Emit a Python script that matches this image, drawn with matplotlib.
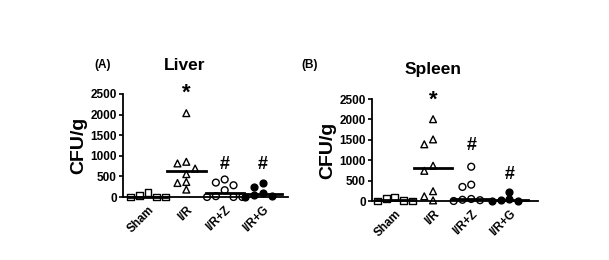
import numpy as np
import matplotlib
matplotlib.use("Agg")
import matplotlib.pyplot as plt

plt.rcParams['font.family'] = ['Liberation Sans', 'DejaVu Sans']
plt.rcParams['font.weight'] = 'bold'

categories = ["Sham", "I/R", "I/R+Z", "I/R+G"]
yticks = [0, 500, 1000, 1500, 2000, 2500]

liver_sham = [0, 0, 100, 40, 0]
liver_ir = [2035, 690, 815, 855, 555, 365, 180, 340]
liver_irz = [350, 285, 425, 165, 0, 0, 0, 20]
liver_irg = [340, 250, 0, 50, 100, 20]

spleen_sham = [0, 20, 100, 60, 0]
spleen_ir = [2005, 1510, 1390, 865, 740, 240, 15, 115]
spleen_irz = [840, 400, 345, 0, 20, 50, 30]
spleen_irg = [220, 0, 20, 40, 10]

liver_marks = {"I/R": ("*", 2530), "I/R+Z": ("#", 800), "I/R+G": ("#", 800)}
spleen_marks = {"I/R": ("*", 2480), "I/R+Z": ("#", 1350), "I/R+G": ("#", 660)}

markers = ["s", "^", "o", "o"]
fills = ["none", "none", "none", "black"]


def swarm(vals, xunit_px, yunit_px, d=7.0, step=0.23):
    order = np.argsort(vals)[::-1]
    placed = []
    offs = np.zeros(len(vals))
    cands = [0.0]
    for k in range(1, 8):
        cands += [-k * step, k * step]
    for i in order:
        y = vals[i]
        best = None
        for c in cands:
            ok = True
            for (px, py) in placed:
                if abs((c - px) * xunit_px) < d and abs((y - py) * yunit_px) < d:
                    ok = False
                    break
            if ok:
                best = c
                break
        if best is None:
            best = 0.0
        offs[i] = best
        placed.append((best, y))
    return offs


fig = plt.figure(figsize=(6.09, 2.6), dpi=100)


def panel(rect, groups, xlim, title, tag, tagpos, titlepos, marks):
    ax = fig.add_axes(rect)
    w_px = rect[2] * 609
    h_px = rect[3] * 260
    xunit = w_px / (xlim[1] - xlim[0])
    yunit = h_px / 2500
    for i, vals in enumerate(groups):
        vals = np.array(vals, dtype=float)
        offs = swarm(vals, xunit, yunit)
        ax.scatter(i + offs, vals, marker=markers[i], s=24,
                   facecolors=fills[i], edgecolors='black', linewidths=1.0,
                   clip_on=False, zorder=3)
        med = np.median(vals)
        ax.plot([i - 0.5, i + 0.5], [med, med], color='black', lw=2.0,
                zorder=4, clip_on=False)
    for cat, (sym, yv) in marks.items():
        i = categories.index(cat)
        ax.text(i, yv, sym, ha='center', va='center',
                fontsize=16 if sym == "*" else 13, fontweight='bold')
    ax.set_xlim(*xlim)
    ax.set_ylim(0, 2500)
    ax.set_yticks(yticks)
    ax.set_xticks(range(len(categories)))
    ax.set_xticklabels(categories, rotation=45, ha='right',
                       rotation_mode='anchor', fontsize=8.5, fontweight='bold')
    ax.tick_params(axis='y', labelsize=8.5, width=1.2, length=3, pad=1.5)
    ax.tick_params(axis='x', length=0, pad=5)
    for lab in ax.get_yticklabels():
        lab.set_fontweight('bold')
    for s in ['top', 'right']:
        ax.spines[s].set_visible(False)
    ax.spines['left'].set_linewidth(1.3)
    ax.spines['bottom'].set_linewidth(1.3)
    ax.set_ylabel("CFU/g", fontsize=14, fontweight='bold', labelpad=2)
    fig.text(titlepos[0] / 609, 1 - titlepos[1] / 260, title, ha='center',
             va='center', fontsize=12.5, fontweight='bold')
    fig.text(tagpos[0] / 609, 1 - tagpos[1] / 260, tag, ha='center',
             va='center', fontsize=8.5, fontweight='bold')
    return ax


panel([123 / 609, 1 - 197 / 260, 165 / 609, 103 / 260],
      [liver_sham, liver_ir, liver_irz, liver_irg], (-0.65, 3.65),
      "Liver", "(A)", (103, 65), (185, 66), liver_marks)
panel([372 / 609, 1 - 201 / 260, 166 / 609, 102 / 260],
      [spleen_sham, spleen_ir, spleen_irz, spleen_irg], (-0.6, 3.75),
      "Spleen", "(B)", (310, 65), (433, 70), spleen_marks)

fig.savefig("out.png", dpi=100)
